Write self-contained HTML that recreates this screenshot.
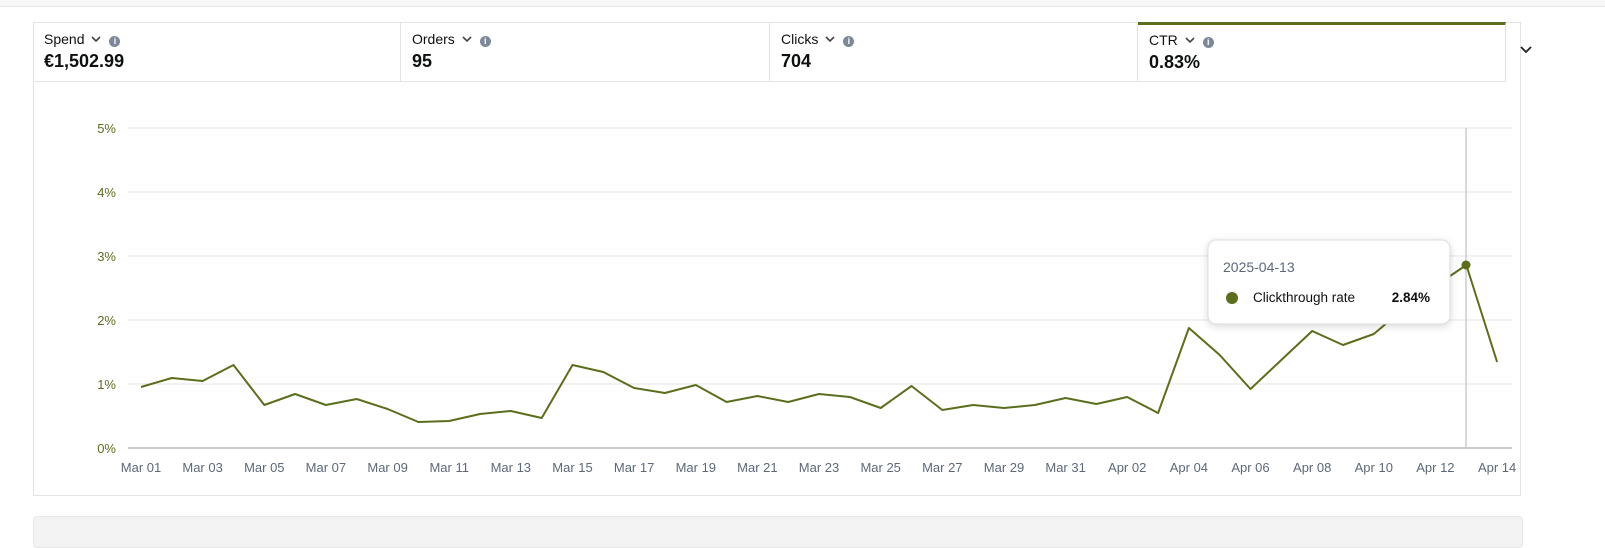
<!DOCTYPE html>
<html><head><style>
body{margin:0;width:1605px;height:537px;background:#fff;font-family:"Liberation Sans",sans-serif;position:relative;overflow:hidden}
.top{position:absolute;left:0;top:0;width:1605px;height:6px;background:#f7f7f7;border-bottom:1px solid #e6e6e6}
.card{position:absolute;left:33px;top:22px;width:1488px;height:474px;border:1px solid #e3e3e3;box-sizing:border-box}
.tab{position:absolute;top:22px;height:60px;border-right:1px solid #e3e3e3;border-bottom:1px solid #e3e3e3;box-sizing:border-box;padding:9px 0 0 11px;color:#0f1111}
.tab .l{font-size:14px;color:#0f1111}
.tab .v{font-size:18px;font-weight:bold;margin-top:4px;color:#0f1111}
.ch{display:inline-block;margin-left:7px;width:10px;height:8px;vertical-align:1px}
.i{display:inline-block;width:11px;height:11px;border-radius:50%;background:#7d8998;color:#fff;font-size:9px;text-align:center;line-height:11px;font-weight:bold;margin-left:8px;vertical-align:0px}
.bot{position:absolute;left:33px;top:516px;width:1488px;height:30px;background:#f3f3f3;border:1px solid #e6e6e6;border-radius:4px}
</style></head><body>
<div class="top"></div>
<div class="card"></div>
<div class="tab" style="left:33px;width:368px"><div class="l">Spend<svg class="ch" viewBox="0 0 10 8"><path d="M1 2 L5 6 L9 2" stroke="#444" stroke-width="1.6" fill="none"/></svg><span class="i">i</span></div><div class="v">€1,502.99</div></div>
<div class="tab" style="left:401px;width:369px"><div class="l">Orders<svg class="ch" viewBox="0 0 10 8"><path d="M1 2 L5 6 L9 2" stroke="#444" stroke-width="1.6" fill="none"/></svg><span class="i">i</span></div><div class="v">95</div></div>
<div class="tab" style="left:770px;width:368px"><div class="l">Clicks<svg class="ch" viewBox="0 0 10 8"><path d="M1 2 L5 6 L9 2" stroke="#444" stroke-width="1.6" fill="none"/></svg><span class="i">i</span></div><div class="v">704</div></div>
<div class="tab" style="left:1138px;width:368px;border-top:3px solid #5a6e1e;padding-top:7px"><div class="l">CTR<svg class="ch" viewBox="0 0 10 8"><path d="M1 2 L5 6 L9 2" stroke="#444" stroke-width="1.6" fill="none"/></svg><span class="i">i</span></div><div class="v">0.83%</div></div>
<svg width="1605" height="537" style="position:absolute;left:0;top:0" font-family="Liberation Sans, sans-serif">
<path d="M1521 47 l5 5 l5 -5" stroke="#222" stroke-width="1.8" fill="none"/>
<g stroke="#e3e3e3" stroke-width="1">
<line x1="128" x2="1512" y1="128" y2="128"/><line x1="128" x2="1512" y1="192" y2="192"/><line x1="128" x2="1512" y1="256" y2="256"/><line x1="128" x2="1512" y1="320" y2="320"/><line x1="128" x2="1512" y1="384" y2="384"/>
</g>
<line x1="128" x2="1512" y1="448" y2="448" stroke="#ccc" stroke-width="2"/>
<line x1="1466" x2="1466" y1="128" y2="448" stroke="#ccc" stroke-width="1.5"/>
<g fill="#5a6e1e" font-size="13" text-anchor="end">
<text x="116" y="133">5%</text><text x="116" y="197">4%</text><text x="116" y="261">3%</text><text x="116" y="325">2%</text><text x="116" y="389">1%</text><text x="116" y="453">0%</text>
</g>
<g fill="#5d6878" font-size="13" text-anchor="middle" id="xl"></g>
<polyline id="ln" fill="none" stroke="#5a6e1e" stroke-width="2" stroke-linejoin="round"/>
<circle cx="1466" cy="265" r="4.5" fill="#5a6e1e"/>
<g>
<rect x="1208" y="240" width="242" height="84" rx="8" fill="#fff" stroke="#ddd" style="filter:drop-shadow(0 2px 4px rgba(0,0,0,.15))"/>
<text x="1223" y="272" font-size="14" fill="#5d6878">2025-04-13</text>
<circle cx="1232" cy="298" r="6" fill="#5a6e1e"/>
<text x="1253" y="302" font-size="13.5" fill="#0f1111">Clickthrough rate</text>
<text x="1430" y="302" font-size="13.5" font-weight="bold" fill="#0f1111" text-anchor="end">2.84%</text>
</g>
</svg>
<div class="bot"></div>
<script>
var ys=[387,378,381,365,405,394,405,399,409,422,421,414,411,418,365,372,388,393,385,402,396,402,394,397,408,386,410,405,408,405,398,404,397,413,328,355,389,360,331,345,334,308,286,265,362];
var pts=ys.map(function(y,i){return (141+i*30.82).toFixed(1)+","+y}).join(" ");
document.getElementById("ln").setAttribute("points",pts);
var lab=["Mar 01","Mar 03","Mar 05","Mar 07","Mar 09","Mar 11","Mar 13","Mar 15","Mar 17","Mar 19","Mar 21","Mar 23","Mar 25","Mar 27","Mar 29","Mar 31","Apr 02","Apr 04","Apr 06","Apr 08","Apr 10","Apr 12","Apr 14"];
var g=document.getElementById("xl"),h="";
lab.forEach(function(t,k){h+='<text x="'+(141+k*2*30.82).toFixed(1)+'" y="472">'+t+'</text>'});
g.innerHTML=h;
</script>
</body></html>
